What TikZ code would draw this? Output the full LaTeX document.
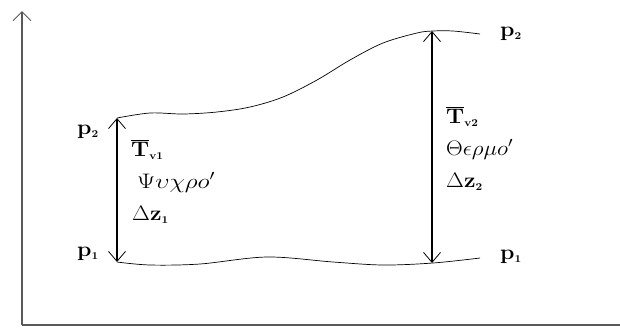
\RequirePackage{fix-cm}
\documentclass[tikz,border=0pt]{standalone}
\usepackage{graphicx}
\usetikzlibrary{arrows.meta}
\newcommand{\wid}[1]{\scalebox{1.1}[1]{#1}}
\newcommand{\gwid}[1]{\scalebox{1.2}[1]{#1}}
\begin{document}
\begin{tikzpicture}[x=1pt,y=-1pt,
  axis/.style={line width=1.3pt,draw=black!65},
  axhead/.style={-{Straight Barb[length=9pt,width=18pt,line width=0.9pt]}},
  dimarrow/.style={line width=1.4pt,{Straight Barb[length=10pt,width=17pt,line width=0.8pt]}-{Straight Barb[length=10pt,width=17pt,line width=0.8pt]}},
  curve/.style={line width=0.7pt},
  lbl/.style={inner sep=0pt,anchor=base west,font=\fontsize{21}{25}\selectfont}]
\useasboundingbox (0,0) rectangle (620,327);
% axes
\coordinate (O) at (22,325);
\coordinate (Ytop) at (22,11);
\coordinate (Xend) at (620,325);
\draw[axis] (Xend) -- (O);
\draw[axis,axhead] (O) -- (Ytop);
% curve end points
\coordinate (A2) at (117,118);
\coordinate (A1) at (117,262);
\coordinate (B2) at (432,31);
\coordinate (B1) at (432,263);
% upper curve
\draw[curve] plot[smooth,tension=0.55] coordinates {(117,118) (150,113) (183,114) (217,112) (250,107) (283,97) (317,80) (350,60) (383,43) (417,33) (433,31) (453,31) (480,34)};
% lower curve
\draw[curve] plot[smooth,tension=0.55] coordinates {(117,262) (150,265) (200,264) (267,257) (333,262) (383,265) (433,263) (480,258)};
% arrows
\draw[dimarrow] (A1) -- (A2);
\draw[dimarrow] (B1) -- (B2);
% labels left
\node[lbl] (lp2) at (77,134) {\wid{$\mathbf{p}_{\scriptscriptstyle\mathbf{2}}$}};
\node[lbl] (lp1) at (77,256) {\wid{$\mathbf{p}_{\scriptscriptstyle\mathbf{1}}$}};
\node[lbl] (tv1) at (131,156) {\wid{$\overline{\mathbf{T}}_{\scriptscriptstyle\mathbf{v1}}$}};
\node[lbl] (psy) at (137,188) {\gwid{$\Psi\upsilon\chi\rho o'$}};
\node[lbl] (dz1) at (132,220) {\wid{$\Delta\mathbf{z}_{\scriptscriptstyle\mathbf{1}}$}};
% labels right
\node[lbl] (rp2) at (500,36) {\wid{$\mathbf{p}_{\scriptscriptstyle\mathbf{2}}$}};
\node[lbl] (rp1) at (500,259) {\wid{$\mathbf{p}_{\scriptscriptstyle\mathbf{1}}$}};
\node[lbl] (tv2) at (446,123) {\wid{$\overline{\mathbf{T}}_{\scriptscriptstyle\mathbf{v2}}$}};
\node[lbl] (the) at (446,155) {\wid{$\Theta\epsilon\rho\mu o'$}};
\node[lbl] (dz2) at (446,187) {\wid{$\Delta\mathbf{z}_{\scriptscriptstyle\mathbf{2}}$}};
\end{tikzpicture}
\end{document}
